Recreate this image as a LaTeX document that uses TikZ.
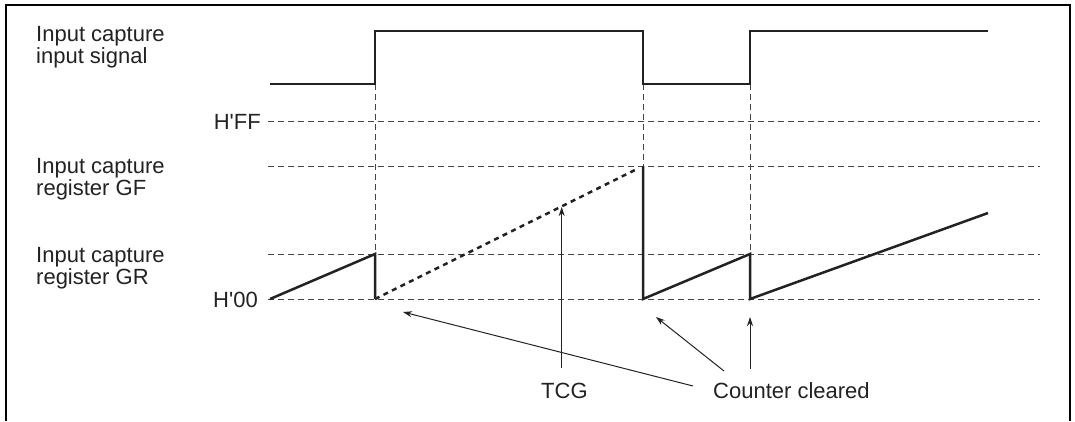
\documentclass[tikz,border=0pt]{standalone}
\usepackage{fontspec}
\setmainfont{Liberation Sans}[Ligatures=TeXOff]
\usetikzlibrary{arrows.meta}
\definecolor{ink}{HTML}{222222}
\definecolor{grid}{HTML}{444444}
\begin{document}
\begin{tikzpicture}[x=1pt,y=-1pt,
  wave/.style={ink,line width=2.5pt,line join=miter},
  guide/.style={grid,line width=0.9pt,dash pattern=on 6pt off 4pt},
  tcgline/.style={ink,line width=2.5pt,dash pattern=on 5pt off 4.5pt},
  pointer/.style={ink,line width=1pt,-{Stealth[length=9pt,width=6pt]}},
  lbl/.style={inner sep=0pt,text=ink,font=\fontsize{22}{22}\selectfont,align=left}]
\useasboundingbox (0,0) rectangle (1075,421);
% frame
\draw[black,line width=2pt] (6,421) -- (6,5) -- (1070,5) -- (1070,421);

% labels (base anchor = last line's baseline)
\node[lbl,anchor=base west] (lsig) at (36,63) {Input capture\\input signal};
\node[lbl,anchor=base west] (lgf) at (36,195) {Input capture\\register GF};
\node[lbl,anchor=base west] (lgr) at (36,284) {Input capture\\register GR};
\node[lbl,anchor=east] (lff) at (261,122) {H'FF};
\node[lbl,anchor=east] (l00) at (258,300) {H'00};
\node[lbl,anchor=base west] (tcg) at (541,398) {TCG};
\node[lbl,anchor=base west] (cc) at (713,398) {Counter cleared};

% coordinates
\coordinate (s0) at (270,84);
\coordinate (s1) at (375,84);
\coordinate (s2) at (375,31);
\coordinate (s3) at (643,31);
\coordinate (s4) at (643,84);
\coordinate (s5) at (750,84);
\coordinate (s6) at (750,31);
\coordinate (s7) at (988,31);

\coordinate (ffa) at (268,121);  \coordinate (ffb) at (1040,121);
\coordinate (gfa) at (268,166);  \coordinate (gfb) at (1040,166);
\coordinate (gra) at (268,254);  \coordinate (grb) at (1040,254);
\coordinate (z0a) at (268,299);  \coordinate (z0b) at (1040,299);

\coordinate (v1b) at (375,299);
\coordinate (v2b) at (643,299);
\coordinate (v3b) at (750,299);

\coordinate (r0) at (270,299);
\coordinate (r1) at (375,254);
\coordinate (d1) at (638,168.5);
\coordinate (f0) at (643,166);
\coordinate (r2) at (750,254);
\coordinate (r3) at (988,213);

% guides
\draw[guide] (ffa) -- (ffb);
\draw[guide] (gfa) -- (gfb);
\draw[guide] (gra) -- (grb);
\draw[guide] (z0a) -- (z0b);
\draw[guide] (s1) -- (v1b);
\draw[guide] (s4) -- (v2b);
\draw[guide] (s5) -- (v3b);

% input signal
\draw[wave] (s0) -- (s1) -- (s2) -- (s3) -- (s4) -- (s5) -- (s6) -- (s7);

% register waveform
\draw[wave] (r0) -- (r1) -- (v1b);
\draw[tcgline] (v1b) -- (d1);
\draw[wave] (f0) -- (v2b) -- (r2) -- (v3b) -- (r3);

% pointers
\coordinate (ptcg) at (561.7,207);
\coordinate (btcg) at (561.7,368);
\draw[pointer] (btcg) -- (ptcg);
\coordinate (c1a) at (693,386);  \coordinate (c1b) at (403,312);
\coordinate (c2a) at (724,371);  \coordinate (c2b) at (656,317);
\coordinate (c3a) at (750,369);  \coordinate (c3b) at (750,317);
\draw[pointer] (c1a) -- (c1b);
\draw[pointer] (c2a) -- (c2b);
\draw[pointer] (c3a) -- (c3b);
\end{tikzpicture}
\end{document}
